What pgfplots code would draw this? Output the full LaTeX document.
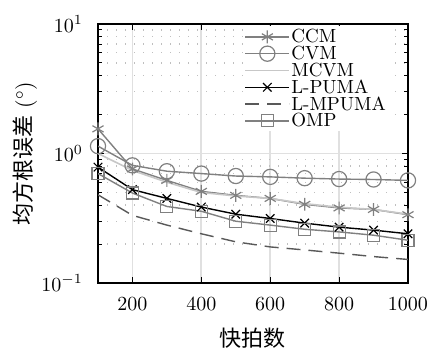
\documentclass[border=0pt]{standalone}
\usepackage{fontspec}
\usepackage{pgfplots}
\pgfplotsset{compat=1.18}
\usetikzlibrary{calc}
\newfontfamily\cjk{Noto Sans CJK SC}

% RMSE versus number of snapshots
\pgfplotstableread{
x    ccm   cvm   mcvm  lpuma lmpuma omp
100  1.55  1.14  1.00  0.785 0.48   0.70
200  0.76  0.81  0.74  0.526 0.333  0.495
300  0.62  0.73  0.60  0.45  0.28   0.39
400  0.51  0.70  0.50  0.386 0.24   0.358
500  0.475 0.67  0.47  0.34  0.208  0.30
600  0.45  0.66  0.45  0.315 0.19   0.28
700  0.405 0.645 0.41  0.29  0.18   0.26
800  0.38  0.635 0.385 0.27  0.17   0.248
900  0.37  0.63  0.37  0.256 0.16   0.234
1000 0.337 0.62  0.34  0.24  0.152  0.214
}\rmse

\begin{document}
\begin{tikzpicture}
\begin{semilogyaxis}[
  scale only axis, width=155pt, height=129.5pt,
  xmin=100, xmax=1000, ymin=0.1, ymax=10,
  xtick={200,400,...,1000},
  /pgf/number format/1000 sep={},
  tick align=inside,
  major tick length=3pt, minor tick length=2pt,
  every tick/.style={black, line width=0.5pt},
  xmajorgrids, ymajorgrids, yminorgrids,
  major grid style={black!12, line width=0.9pt},
  minor grid style={black!25, line width=0.7pt, dash pattern=on 0.7pt off 3.8pt},
  axis line style={line width=0.6pt},
  xticklabel style={yshift=-4pt},
  yticklabel style={xshift=-4pt},
  xlabel={\cjk 快拍数},
  ylabel={{\cjk 均方根误差} $(^\circ)$},
  label style={font=\fontsize{11}{13}\selectfont},
  x label style={at={(axis description cs:0.5,0)}, anchor=center, yshift=-27.5pt},
  y label style={at={(axis description cs:0,0.5)}, anchor=center, yshift=36.5pt},
  legend cell align=left,
  legend style={at={(axis description cs:0.465,0.992)}, anchor=north west,
    draw=none, fill=white, inner sep=1pt, row sep=0pt,
    font=\fontsize{9.5}{10}\selectfont,
    nodes={inner sep=0.6pt, text height=6.6pt, text depth=0.6pt}},
  legend image code/.code={\draw[mark repeat=2,mark phase=2]
    plot coordinates {(0pt,0pt) (11pt,0pt) (22pt,0pt)};},
]
\addplot[black!50, line width=0.7pt, mark=asterisk, mark size=3.2pt,
  mark options={line width=0.6pt}] table[x=x,y=ccm] {\rmse};
\addlegendentry{CCM}
\addplot[black!50, line width=0.7pt, mark=o, mark size=3.8pt,
  mark options={line width=0.6pt}] table[x=x,y=cvm] {\rmse};
\addlegendentry{CVM}
\addplot[black!22, line width=0.8pt] table[x=x,y=mcvm] {\rmse};
\addlegendentry{MCVM}
\addplot[black, line width=0.7pt, mark=x, mark size=3pt,
  mark options={line width=0.6pt}] table[x=x,y=lpuma] {\rmse};
\addlegendentry{L-PUMA}
\addplot[black!65, line width=0.7pt, dash pattern=on 7pt off 4pt] table[x=x,y=lmpuma] {\rmse};
\addlegendentry{L-MPUMA}
\addplot[black!50, line width=0.7pt, mark=square, mark size=3pt,
  mark options={line width=0.6pt, solid}] table[x=x,y=omp] {\rmse};
\addlegendentry{OMP}
\end{semilogyaxis}
\pgfresetboundingbox
\useasboundingbox ($(current axis.south west)+(-49pt,-32pt)$) rectangle ($(current axis.north east)+(11pt,12pt)$);
\end{tikzpicture}
\end{document}
